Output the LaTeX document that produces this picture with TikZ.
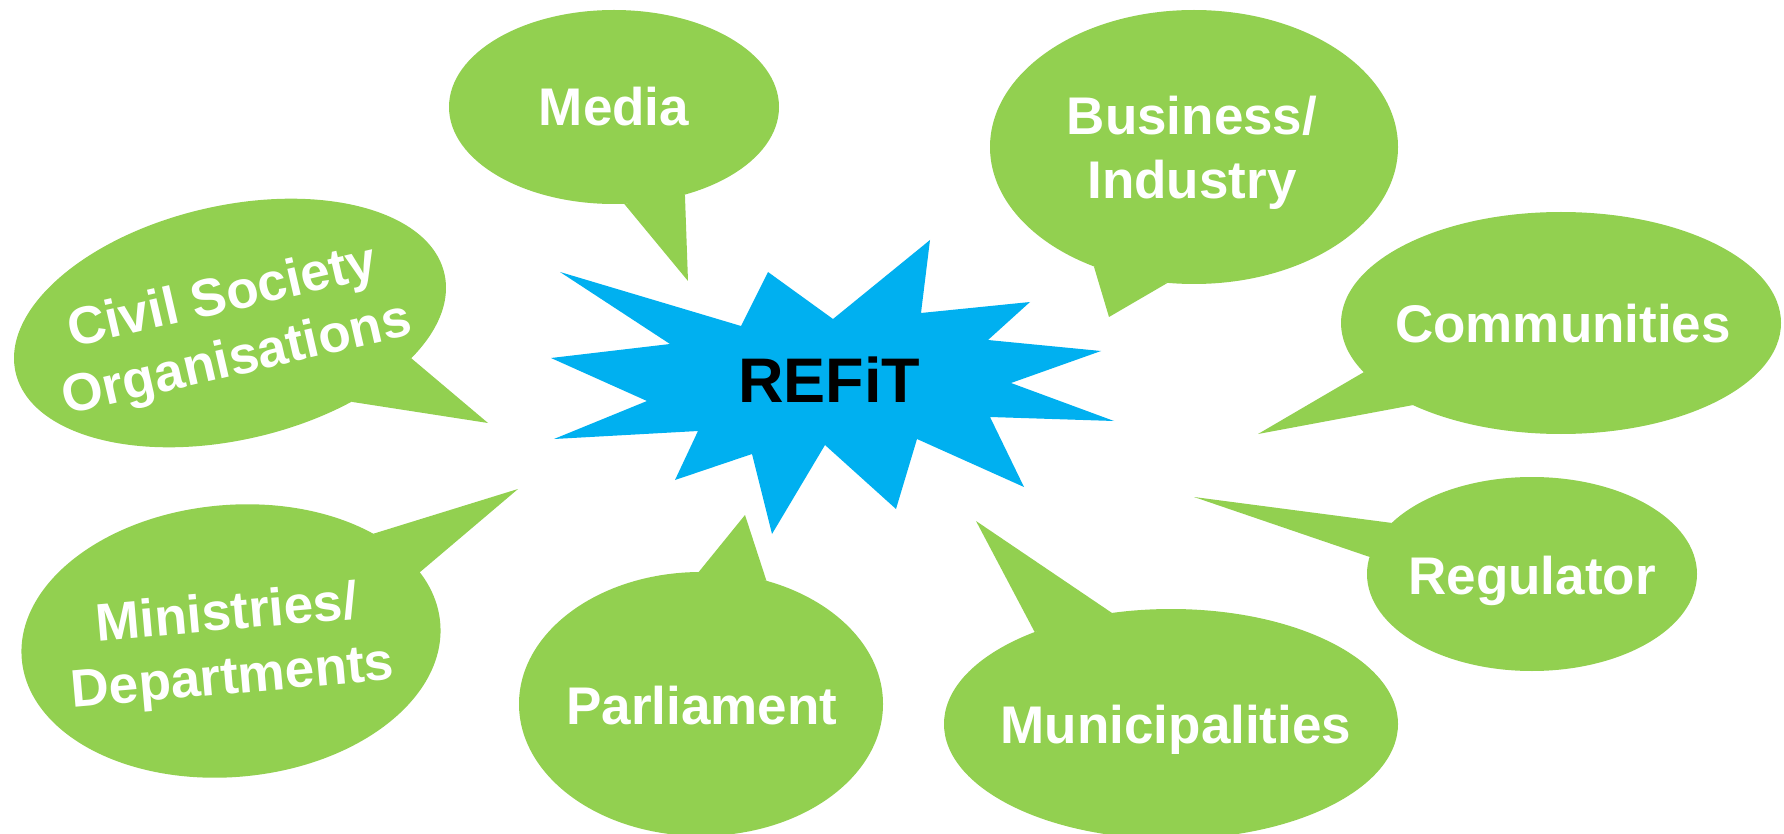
\documentclass[tikz,border=0pt]{standalone}
\usepackage{fontspec}
\setmainfont{Liberation Sans}
\usetikzlibrary{shapes.geometric}
\definecolor{bubblegreen}{HTML}{92D050}
\definecolor{refitblue}{HTML}{00B0F0}
\tikzset{
    bubble/.style 2 args={ % Speech bubble body, sizes are the two radii
        ellipse,
        fill=bubblegreen,
        inner sep=0pt, outer sep=0pt,
        minimum width=#1, minimum height=#2
    },
    tail/.style={fill=bubblegreen}, % Pointer of a bubble
    burst/.style={fill=refitblue}, % The star in the middle
    says/.style={ % White bold text in the bubbles
        text=white, align=center,
        font=\bfseries\fontsize{26.5pt}{32pt}\selectfont
    },
    oneline/.style={text height=19pt, text depth=0pt},
    hub/.style={ % Title in the star
        font=\bfseries\fontsize{31.5pt}{36pt}\selectfont,
        text height=22.6pt, text depth=0pt
    }
}

\begin{document}
\begin{tikzpicture}[x=0.5pt, y=-0.5pt]
    \useasboundingbox[fill=white] (0,0) rectangle (1784,834);
    % star
    \fill[burst] (560,272) -- (741,326) -- (768,272) -- (833,319) -- (930,240) -- (921,313)
        -- (1030,302) -- (988,340) -- (1101,351) -- (1011,383) -- (1114,421) -- (990,417)
        -- (1024,487) -- (917,439) -- (896,509) -- (825,445) -- (772,534) -- (752,454)
        -- (675,480) -- (698,431) -- (554,439) -- (647,401) -- (551,358) -- (670,344) -- cycle;
    \node[hub] (refit) at (829,380) {REFiT};

    % bubbles
    \node[bubble={165pt}{97pt}] (media) at (614,107) {};
    \node[bubble={204pt}{137pt}] (business) at (1194,147) {};
    \node[bubble={220pt}{111pt}] (communities) at (1561,323) {};
    \node[bubble={165pt}{97pt}] (regulator) at (1532,574) {};
    \node[bubble={227pt}{115pt}] (municipalities) at (1171,724) {};
    \node[bubble={182pt}{132pt}] (parliament) at (701,704) {};
    \node[bubble={210pt}{136pt}, rotate=5] (ministries) at (231,641) {};
    \node[bubble={220pt}{117pt}, rotate=13] (civil) at (230,323) {};

    % pointers
    \coordinate (mediatip) at (688,281);
    \coordinate (businesstip) at (1109,317);
    \coordinate (communitiestip) at (1258,434);
    \coordinate (regulatortip) at (1194,497);
    \coordinate (municipalitiestip) at (976,521);
    \coordinate (parliamenttip) at (745,515);
    \coordinate (ministriestip) at (518,489);
    \coordinate (civiltip) at (488,423);
    \fill[tail] (media.276) -- (mediatip) -- (media.309) -- cycle;
    \fill[tail] (business.230) -- (businesstip) -- (business.259) -- cycle;
    \fill[tail] (communities.194) -- (communitiestip) -- (communities.209) -- cycle;
    \fill[tail] (regulator.160) -- (regulatortip) -- (regulator.174) -- cycle;
    \fill[tail] (municipalities.146) -- (municipalitiestip) -- (municipalities.118) -- cycle;
    \fill[tail] (parliament.91) -- (parliamenttip) -- (parliament.62) -- cycle;
    \fill[tail] (ministries.32) -- (ministriestip) -- (ministries.15) -- cycle;
    \fill[tail] (civil.336) -- (civiltip) -- (civil.314) -- cycle;

    % texts
    \node[says, oneline] (mediatext) at (614,107) {Media};
    \node[says] (businesstext) at (1192,153) {Business/\\Industry};
    \node[says, oneline] (communitiestext) at (1563,324) {Communities};
    \node[says, oneline] (regulatortext) at (1532,575) {Regulator};
    \node[says, oneline] (municipalitiestext) at (1176,724) {Municipalities};
    \node[says, oneline] (parliamenttext) at (702,705) {Parliament};
    \node[says, rotate=5] (ministriestext) at (230,648) {Ministries/\\Departments};
    \node[says, rotate=13] (civiltext) at (230,330) {Civil Society\\Organisations};
\end{tikzpicture}
\end{document}
